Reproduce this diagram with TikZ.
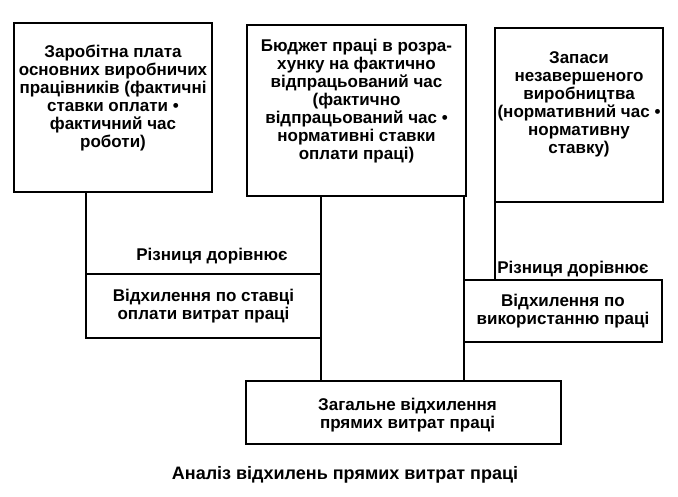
\documentclass[tikz,border=0pt]{standalone}
\usepackage{fontspec}
\setmainfont{Liberation Sans}
\usetikzlibrary{positioning}

\begin{document}
\begin{tikzpicture}
[every node/.style={inner sep=0pt,outer sep=0pt,align=center,font=\bfseries\fontsize{17}{18}\selectfont},
 box/.style={rectangle,draw=black},
 note/.style={rectangle},
 captext/.style={rectangle,font=\bfseries\fontsize{18}{20}\selectfont},
 line width=1.2pt]
\useasboundingbox (0,0) rectangle (678pt,-497pt);

\node[box,minimum width=198pt,minimum height=169pt,
      label={[yshift=9.5pt]center:{Заробітна плата\\основних виробничих\\працівників (фактичні\\ставки оплати •\\фактичний час\\роботи)}}]
      (wage) at (113pt,-107.5pt) {};
\node[box,minimum width=219pt,minimum height=171pt,
      label={[yshift=9.5pt]center:{Бюджет праці в розра-\\хунку на фактично\\відпрацьований час\\(фактично\\відпрацьований час •\\нормативні ставки\\оплати праці)}}]
      (budget) [on grid,below right=3pt and 243.5pt of wage] {};
\node[box,minimum width=168pt,minimum height=174pt,
      label={[yshift=11pt]center:{Запаси\\незавершеного\\виробництва\\(нормативний час •\\нормативну\\ставку)}}]
      (stock) [on grid,below right=4.5pt and 222.5pt of budget] {};

\node[box,minimum width=235pt,minimum height=64pt] (rate)  [on grid,below right=198.5pt and 90.5pt of wage]
      {Відхилення по ставці\\оплати витрат праці};
\node[box,minimum width=198pt,minimum height=62pt] (use)   [on grid,below left=196pt and 16pt of stock]
      {Відхилення по\\використанню праці};
\node[box,minimum width=315pt,minimum height=63pt,
      label={[xshift=4pt,yshift=-3pt]center:{Загальне відхилення\\прямих витрат праці}}]
      (total) [on grid,below right=302pt and 47pt of budget] {};

\node[note] (diffL) [on grid,above right=50pt and 8.5pt of rate] {Різниця дорівнює};
\node[note] (diffR) [on grid,above right=41.5pt and 10pt of use] {Різниця дорівнює};

\draw (wage.south -| rate.west)   -- (rate.north west);
\draw (budget.south -| rate.east) -- (total.north -| rate.east);
\draw (budget.south -| use.west)  -- (total.north -| use.west);
\draw (stock.south west)          -- (stock.south west |- use.north);

\node[captext] (caption) [on grid,below left=62.5pt and 58.5pt of total] {Аналіз відхилень прямих витрат праці};
\end{tikzpicture}
\end{document}
